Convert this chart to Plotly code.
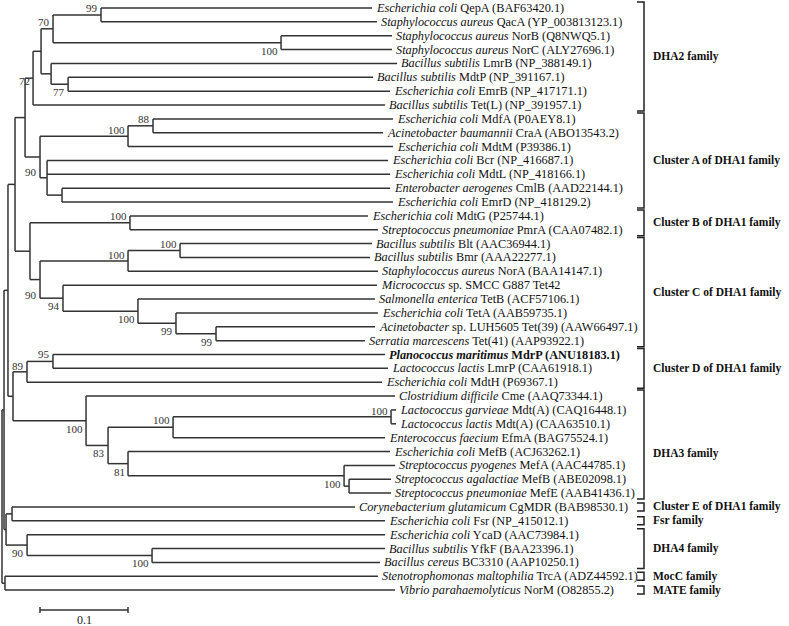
import plotly.graph_objects as go

# ---------------- DATA ----------------
# Phylogenetic tree in Newick form (branch lengths = substitutions per site),
# internal nodes are named so that bootstrap values can be attached.
DHA2 = ("((((QepA:0.3080,QacA:0.3136)n99:0.0545,(NorB:0.1261,NorC:0.1261)n100a:0.2591)n70:0.0136,"
        "(LmrB:0.3932,(MdtP:0.3466,EmrB:0.3659)n77:0.0193)nL:0.0114)n41:0.0091,TetL:0.4000)n72:0.0091")
CLA = ("(((MdfA:0.2727,CraA:0.2614)n88:0.0284,MdtM:0.3011)n100A:0.1000,"
       "(Bcr:0.3875,MdtL:0.3898,(CmlB:0.3727,EmrD:0.3761)nCE:0.0170)nIn:0.0080)n90A:0.0170")
CLB = "(MdtG:0.2705,PmrA:0.2818)n100B:0.1136"
CLC = ("(((Blt:0.2182,Bmr:0.2159)nBB:0.0591,NorA:0.2841)n100C1:0.1000,"
       "(Tet42:0.3568,(TetB:0.2693,(TetA:0.2295,(Tet39:0.1807,Tet41:0.1693)n99c:0.0455)n99b:0.0432)n100C2:0.0852)n94:0.0261)n90C:0.0114")
CLD = "((MdrP:0.3773,LmrP:0.3807)n95:0.0295,MdtH:0.4034)n89:0.0159"
DHA3 = ("(Cme:0.3511,(((MdtAg:0.0057,MdtAl:0.0057)nGL:0.2477,EfmA:0.2409)n100b:0.0739,"
        "(MefBec:0.2977,(MefA:0.0580,(MefBsa:0.0477,MefE:0.0477)nAP:0.0057)nMef:0.2455)n81:0.0227)n83:0.0250)n100D3:0.0830")
OTHERS = ("((CgMDR:0.3898,Fsr:0.4239)nCF:0.0068,"
          "(YcaD:0.4068,(YfkF:0.2648,BC3310:0.2591)nBac:0.1420)n90D4:0.0239)nc:0.0023")
OUTGROUP = "(TrcA:0.4239,NorM:0.4432)nSV:0.0034"

N15 = f"(({DHA2},{CLA})nD2A:0.0114,({CLB},{CLC})nBC:0.0170)n15:0.0080"
NA = f"({N15},({CLD},{DHA3})n13:0.0057)na:0.0045"
TREE = f"(({NA},{OTHERS})nb:0.0023,{OUTGROUP})root;"

LEAF_KEYS = ["QepA", "QacA", "NorB", "NorC", "LmrB", "MdtP", "EmrB", "TetL",
             "MdfA", "CraA", "MdtM", "Bcr", "MdtL", "CmlB", "EmrD",
             "MdtG", "PmrA",
             "Blt", "Bmr", "NorA", "Tet42", "TetB", "TetA", "Tet39", "Tet41",
             "MdrP", "LmrP", "MdtH",
             "Cme", "MdtAg", "MdtAl", "EfmA", "MefBec", "MefA", "MefBsa", "MefE",
             "CgMDR", "Fsr", "YcaD", "YfkF", "BC3310", "TrcA", "NorM"]
LEAF_SPECIES = ["Escherichia coli", "Staphylococcus aureus", "Staphylococcus aureus",
                "Staphylococcus aureus", "Bacillus subtilis", "Bacillus subtilis",
                "Escherichia coli", "Bacillus subtilis",
                "Escherichia coli", "Acinetobacter baumannii", "Escherichia coli",
                "Escherichia coli", "Escherichia coli", "Enterobacter aerogenes", "Escherichia coli",
                "Escherichia coli", "Streptococcus pneumoniae",
                "Bacillus subtilis", "Bacillus subtilis", "Staphylococcus aureus", "Micrococcus",
                "Salmonella enterica", "Escherichia coli", "Acinetobacter", "Serratia marcescens",
                "Planococcus maritimus", "Lactococcus lactis", "Escherichia coli",
                "Clostridium difficile", "Lactococcus garvieae", "Lactococcus lactis",
                "Enterococcus faecium", "Escherichia coli", "Streptococcus pyogenes",
                "Streptococcus agalactiae", "Streptococcus pneumoniae",
                "Corynebacterium glutamicum", "Escherichia coli", "Escherichia coli",
                "Bacillus subtilis", "Bacillus cereus", "Stenotrophomonas maltophilia",
                "Vibrio parahaemolyticus"]
LEAF_PROTEIN = ["QepA (BAF63420.1)", "QacA (YP_003813123.1)", "NorB (Q8NWQ5.1)",
                "NorC (ALY27696.1)", "LmrB (NP_388149.1)", "MdtP (NP_391167.1)",
                "EmrB (NP_417171.1)", "Tet(L) (NP_391957.1)",
                "MdfA (P0AEY8.1)", "CraA (ABO13543.2)", "MdtM (P39386.1)",
                "Bcr (NP_416687.1)", "MdtL (NP_418166.1)", "CmlB (AAD22144.1)", "EmrD (NP_418129.2)",
                "MdtG (P25744.1)", "PmrA (CAA07482.1)",
                "Blt (AAC36944.1)", "Bmr (AAA22277.1)", "NorA (BAA14147.1)", "sp. SMCC G887 Tet42",
                "TetB (ACF57106.1)", "TetA (AAB59735.1)", "sp. LUH5605 Tet(39) (AAW66497.1)",
                "Tet(41) (AAP93922.1)",
                "MdrP (ANU18183.1)", "LmrP (CAA61918.1)", "MdtH (P69367.1)",
                "Cme (AAQ73344.1)", "Mdt(A) (CAQ16448.1)", "Mdt(A) (CAA63510.1)",
                "EfmA (BAG75524.1)", "MefB (ACJ63262.1)", "MefA (AAC44785.1)",
                "MefB (ABE02098.1)", "MefE (AAB41436.1)",
                "CgMDR (BAB98530.1)", "Fsr (NP_415012.1)", "YcaD (AAC73984.1)",
                "YfkF (BAA23396.1)", "BC3310 (AAP10250.1)", "TrcA (ADZ44592.1)",
                "NorM (O82855.2)"]
BOLD_LEAVES = ["MdrP"]

BOOT_NODES = ["n99", "n70", "n100a", "n72", "n77", "n88", "n100A", "n90A",
              "n100B", "nBB", "n100C1", "n90C", "n94", "n100C2", "n99b", "n99c",
              "n95", "n89", "n100D3", "nGL", "n100b", "n83", "n81", "nMef",
              "n90D4", "nBac"]
BOOT_VALUES = [99, 70, 100, 72, 77, 88, 100, 90,
               100, 100, 100, 90, 94, 100, 99, 99,
               95, 89, 100, 100, 100, 83, 81, 100,
               90, 100]

GROUP_NAMES = ["DHA2 family", "Cluster A of DHA1 family", "Cluster B of DHA1 family",
               "Cluster C of DHA1 family", "Cluster D of DHA1 family", "DHA3 family",
               "Cluster E of DHA1 family", "Fsr family", "DHA4 family", "MocC family",
               "MATE family"]
GROUP_FIRST = ["QepA", "MdfA", "MdtG", "Blt", "MdrP", "Cme", "CgMDR", "Fsr", "YcaD", "TrcA", "NorM"]
GROUP_LAST = ["TetL", "EmrD", "PmrA", "Tet41", "MdtH", "MefE", "CgMDR", "Fsr", "BC3310", "TrcA", "NorM"]

SCALE_LENGTH = 0.1
SCALE_LABEL = "0.1"

# ---------------- STYLE / LAYOUT ----------------
W, H = 789, 626
PX_PER_UNIT = 880.0
ROOT_PX = 2.0
ROW0_PX = 8.0
ROW_PX = 13.86
FONT = "Liberation Serif"
LEAF_FONT_SIZE = 12.3
LINE_COLOR = "#333333"
BOOT_SIDE = {"n99": 7, "n70": 7, "n88": 7, "n100A": 6, "n100B": 7, "nBB": 7, "n100C1": 6,
             "n95": 7, "n89": 6, "nGL": 6, "n100b": 7, "n72": -3,
             "n90A": -15, "n90C": -15}
BELOW_SHIFT = -8
BRACKET_X_PX = 644
BRACKET_TICK_PX = 7
GROUP_LABEL_PX = 651
GROUP_LABEL_DY = {"DHA3 family": -9}
SCALE_X0_PX = 40
SCALE_Y_PX = 610


# ---------------- Newick parsing & layout ----------------
def parse_newick(s):
    pos = 0

    def node():
        nonlocal pos
        children = []
        if s[pos] == "(":
            pos += 1
            children.append(node())
            while s[pos] == ",":
                pos += 1
                children.append(node())
            pos += 1  # ')'
        start = pos
        while s[pos] not in ":,);":
            pos += 1
        name = s[start:pos]
        length = 0.0
        if s[pos] == ":":
            pos += 1
            start = pos
            while s[pos] not in ",);":
                pos += 1
            length = float(s[start:pos])
        return {"name": name, "len": length, "children": children}

    return node()


root = parse_newick(TREE)
nodes = {}
row_counter = [0]


def place(n, x0):
    n["x"] = x0 + n["len"]
    nodes[n["name"]] = n
    if not n["children"]:
        n["y"] = row_counter[0]
        row_counter[0] += 1
    else:
        for c in n["children"]:
            place(c, n["x"])
        n["y"] = (n["children"][0]["y"] + n["children"][-1]["y"]) / 2.0


root["len"] = 0.0
place(root, 0.0)

xs, ys = [], []
for n in nodes.values():
    if n["children"]:
        xs += [n["x"], n["x"], None]
        ys += [n["children"][0]["y"], n["children"][-1]["y"], None]
        for c in n["children"]:
            xs += [n["x"], c["x"], None]
            ys += [c["y"], c["y"], None]


def px2x(px):
    return (px - ROOT_PX) / PX_PER_UNIT


def px2y(py):
    return (py - ROW0_PX) / ROW_PX


fig = go.Figure()
fig.add_trace(go.Scatter(x=xs, y=ys, mode="lines",
                         line=dict(color=LINE_COLOR, width=1.5),
                         hoverinfo="skip", showlegend=False))

annotations = []
# leaf labels
for key, sp, prot in zip(LEAF_KEYS, LEAF_SPECIES, LEAF_PROTEIN):
    n = nodes[key]
    if key in BOLD_LEAVES:
        txt = f"<b><i>{sp}</i> {prot}</b>"
    else:
        txt = f"<i>{sp}</i> {prot}"
    annotations.append(dict(x=n["x"], y=n["y"], text=txt, showarrow=False,
                            xanchor="left", yanchor="middle", xshift=2,
                            font=dict(family=FONT, size=LEAF_FONT_SIZE, color="#111")))

# bootstrap values
for nm, val in zip(BOOT_NODES, BOOT_VALUES):
    n = nodes[nm]
    annotations.append(dict(x=n["x"], y=n["y"], text=str(val), showarrow=False,
                            xanchor="right", yanchor="middle", xshift=-1,
                            yshift=BOOT_SIDE.get(nm, BELOW_SHIFT),
                            font=dict(family=FONT, size=11, color="#333")))

# group brackets
bx, by = [], []
for name, a, b in zip(GROUP_NAMES, GROUP_FIRST, GROUP_LAST):
    y0, y1 = nodes[a]["y"], nodes[b]["y"]
    pad = (4 if a == b else 6) / ROW_PX
    top, bot = y0 - pad, y1 + pad
    xr = px2x(BRACKET_X_PX)
    xl = px2x(BRACKET_X_PX - BRACKET_TICK_PX)
    bx += [xl, xr, xr, xl, None]
    by += [top, top, bot, bot, None]
    annotations.append(dict(x=px2x(GROUP_LABEL_PX), y=(y0 + y1) / 2, text=f"<b>{name}</b>",
                            showarrow=False, xanchor="left", yanchor="middle",
                            yshift=GROUP_LABEL_DY.get(name, 0),
                            font=dict(family=FONT, size=11.5, color="#111")))
fig.add_trace(go.Scatter(x=bx, y=by, mode="lines", line=dict(color="#222", width=1.5),
                         hoverinfo="skip", showlegend=False))

# scale bar
sx0 = px2x(SCALE_X0_PX)
sx1 = sx0 + SCALE_LENGTH
sy = px2y(SCALE_Y_PX)
tk = 3 / ROW_PX
fig.add_trace(go.Scatter(x=[sx0, sx1, None, sx0, sx0, None, sx1, sx1],
                         y=[sy, sy, None, sy - tk, sy + tk, None, sy - tk, sy + tk],
                         mode="lines", line=dict(color=LINE_COLOR, width=1.5),
                         hoverinfo="skip", showlegend=False))
annotations.append(dict(x=(sx0 + sx1) / 2, y=sy, text=SCALE_LABEL, showarrow=False,
                        xanchor="center", yanchor="middle", yshift=-10,
                        font=dict(family=FONT, size=12, color="#222")))

fig.update_layout(
    width=W, height=H,
    margin=dict(l=0, r=0, t=0, b=0),
    paper_bgcolor="white", plot_bgcolor="white",
    xaxis=dict(range=[px2x(0), px2x(W)], visible=False, fixedrange=True),
    yaxis=dict(range=[px2y(H), px2y(0)], visible=False, fixedrange=True),
    annotations=annotations,
    showlegend=False,
)

fig.write_html("out.html", config={"displayModeBar": False},
               post_script="document.body.style.margin='0';document.body.style.overflow='hidden';")
